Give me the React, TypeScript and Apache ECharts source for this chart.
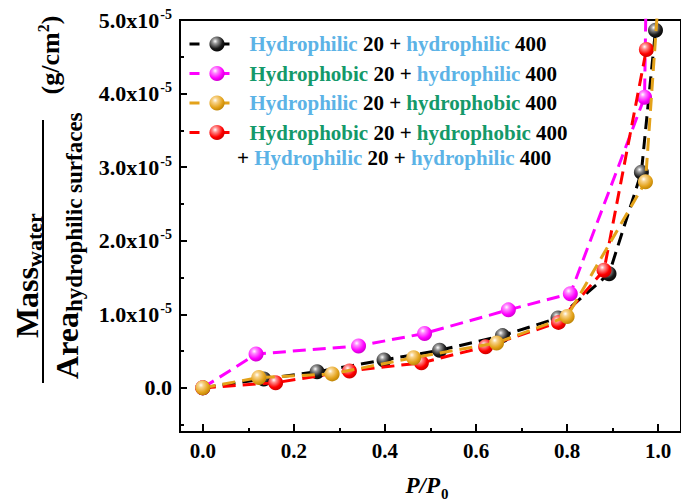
import React, { useEffect, useRef } from 'react';
import * as echarts from 'echarts';

// ---- data (y values in units of 1e-5 g/cm^2) ----
const xTickValues = [0, 0.2, 0.4, 0.6, 0.8, 1.0];
const xMinorTickValues = [0.1, 0.3, 0.5, 0.7, 0.9];
const yTickValues = [0, 1, 2, 3, 4, 5];
const yMinorTickValues = [-0.5, 0.5, 1.5, 2.5, 3.5, 4.5];
const yExponent = '-5';

const seriesNames = [
  'Hydrophilic 20 + hydrophilic 400',
  'Hydrophobic 20 + hydrophilic 400',
  'Hydrophilic 20 + hydrophobic 400',
  'Hydrophobic 20 + hydrophobic 400',
];
const extraLegendLine = '+ Hydrophilic 20 + hydrophilic 400';

const blackX = [0, 0.134, 0.251, 0.398, 0.52, 0.658, 0.78, 0.892, 0.963, 0.994];
const blackY = [0, 0.12, 0.22, 0.38, 0.51, 0.71, 0.95, 1.55, 2.93, 4.86];

const magentaX = [0, 0.117, 0.342, 0.487, 0.671, 0.807, 0.97, 0.973];
const magentaY = [0, 0.46, 0.57, 0.74, 1.06, 1.28, 3.95, 5.2];

const orangeX = [0, 0.123, 0.284, 0.463, 0.645, 0.8, 0.972, 0.998];
const orangeY = [0, 0.14, 0.19, 0.41, 0.61, 0.97, 2.8, 5.1];

const redX = [0, 0.16, 0.322, 0.48, 0.621, 0.781, 0.881, 0.974];
const redY = [0, 0.07, 0.23, 0.34, 0.56, 0.89, 1.6, 4.6];

const FONT = '"Liberation Serif", "Times New Roman", serif';
const BLUE = '#5CB3E6';
const GREEN = '#14996A';

function ball(light: string, base: string, dark: string) {
  return {
    type: 'radial',
    x: 0.38,
    y: 0.32,
    r: 0.75,
    colorStops: [
      { offset: 0, color: '#ffffff' },
      { offset: 0.22, color: light },
      { offset: 0.65, color: base },
      { offset: 1, color: dark },
    ],
  };
}

const mkRich = (c: string) => ({ color: c, fill: c, fontFamily: FONT, fontWeight: 'bold', fontSize: 21, lineHeight: 20 });
const richText = { b: mkRich(BLUE), g: mkRich(GREEN), k: mkRich('#000') };

function toRich(name: string) {
  return name
    .split(' ')
    .map((w) => (/hydrophil/i.test(w) ? `{b|${w}}` : /hydrophob/i.test(w) ? `{g|${w}}` : `{k|${w}}`))
    .join('{k| }');
}

function pairs(xs: number[], ys: number[]) {
  return xs.map((x, i) => [x, ys[i]]);
}

export default function App() {
  const ref = useRef<HTMLDivElement>(null);
  useEffect(() => {
    if (!ref.current) return;
    const chart = echarts.init(ref.current, null, { renderer: 'svg' });

    const mkSeries = (name: string, xs: number[], ys: number[], color: string, grad: any, z: number) => ({
      name,
      type: 'line',
      data: pairs(xs, ys),
      xAxisIndex: 0,
      yAxisIndex: 0,
      symbol: 'circle',
      symbolSize: 15,
      clip: true,
      z,
      lineStyle: { color, width: 3, type: [13, 7] },
      itemStyle: { color: grad },
      emphasis: { disabled: true },
    });

    const option: any = {
      animation: false,
      backgroundColor: '#ffffff',
      grid: [
        { left: 180, top: 20, right: -7, bottom: 69, show: true, borderColor: '#000', borderWidth: 2 },
        { left: 180, top: 20, right: -7, bottom: 69, show: false },
      ],
      xAxis: [
        {
          type: 'value', gridIndex: 0, min: -0.05, max: 1.05, position: 'bottom',
          axisLine: { show: true, onZero: false, lineStyle: { color: '#000', width: 2 } },
          axisTick: { show: true, inside: true, length: 8, lineStyle: { color: '#000', width: 2 }, customValues: xTickValues },
          axisLabel: {
            show: true, customValues: xTickValues, formatter: (v: number) => v.toFixed(1),
            color: '#000', fontFamily: FONT, fontWeight: 'bold', fontSize: 21, margin: 8,
          },
          splitLine: { show: false },
        },
        {
          type: 'value', gridIndex: 1, min: -0.05, max: 1.05, position: 'bottom',
          axisLine: { show: false, onZero: false },
          axisTick: { show: true, inside: true, length: 4, lineStyle: { color: '#000', width: 2 }, customValues: xMinorTickValues },
          axisLabel: { show: false },
          splitLine: { show: false },
        },
      ],
      yAxis: [
        {
          type: 'value', gridIndex: 0, min: -0.6, max: 5.0, position: 'left',
          axisLine: { show: true, onZero: false, lineStyle: { color: '#000', width: 2 } },
          axisTick: { show: true, inside: true, length: 7, lineStyle: { color: '#000', width: 2 }, customValues: yTickValues },
          axisLabel: {
            show: true, customValues: yTickValues, margin: 8,
            formatter: (v: number) => (v === 0 ? '{a|0.0}' : `{a|${v.toFixed(1)}x10}{s|${yExponent}}`),
            rich: {
              a: { color: '#000', fontFamily: FONT, fontWeight: 'bold', fontSize: 22, lineHeight: 26 },
              s: { color: '#000', fontFamily: FONT, fontWeight: 'bold', fontSize: 14, lineHeight: 14, verticalAlign: 'top', padding: [0, 0, 0, 1] },
            },
          },
          splitLine: { show: false },
        },
        {
          type: 'value', gridIndex: 1, min: -0.6, max: 5.0, position: 'left',
          axisLine: { show: false, onZero: false },
          axisTick: { show: true, inside: true, length: 4, lineStyle: { color: '#000', width: 2 }, customValues: yMinorTickValues },
          axisLabel: { show: false },
          splitLine: { show: false },
        },
      ],
      legend: {
        data: seriesNames,
        orient: 'vertical',
        left: 188,
        top: 33.5,
        padding: 0,
        itemGap: 8.5,
        itemWidth: 55,
        itemHeight: 19,
        selectedMode: false,
        lineStyle: { type: [10, 15, 15, 20], width: 3 },
        formatter: (name: string) => toRich(name),
        textStyle: { rich: richText },
      },
      graphic: [
        {
          type: 'text', x: 237, y: 158,
          style: { text: toRich(extraLegendLine), rich: richText, verticalAlign: 'middle', align: 'left' },
        },
        {
          type: 'text', x: 440, y: 485,
          style: { text: 'P/P', fill: '#000', font: `italic bold 23px ${FONT}`, align: 'right', verticalAlign: 'middle' },
        },
        {
          type: 'text', x: 441, y: 494,
          style: { text: '0', fill: '#000', font: `bold 15px ${FONT}`, align: 'left', verticalAlign: 'middle' },
        },
        {
          type: 'group', x: 0, y: 0, rotation: Math.PI / 2,
          children: [
            { type: 'line', shape: { x1: -383, y1: 43, x2: -120, y2: 43 }, style: { stroke: '#000', lineWidth: 2 } },
            { type: 'text', x: -267, y: 27, style: { text: 'Mass', fill: '#000', font: `bold 32px ${FONT}`, align: 'right', verticalAlign: 'middle' } },
            { type: 'text', x: -267, y: 34.5, style: { text: 'water', fill: '#000', font: `bold 22px ${FONT}`, align: 'left', verticalAlign: 'middle' } },
            { type: 'text', x: -312, y: 67, style: { text: 'Area', fill: '#000', font: `bold 32px ${FONT}`, align: 'right', verticalAlign: 'middle' } },
            { type: 'text', x: -312, y: 74.5, style: { text: 'hydrophilic surfaces', fill: '#000', font: `bold 23px ${FONT}`, align: 'left', verticalAlign: 'middle' } },
            {
              type: 'text', x: -55, y: 50,
              style: {
                text: '{a|(g/cm}{s|2}{a|)}', align: 'center', verticalAlign: 'middle',
                rich: {
                  a: { fill: '#000', color: '#000', fontFamily: FONT, fontWeight: 'bold', fontSize: 26, lineHeight: 30 },
                  s: { fill: '#000', color: '#000', fontFamily: FONT, fontWeight: 'bold', fontSize: 16, lineHeight: 16, verticalAlign: 'top' },
                },
              },
            },
          ],
        },
      ],
      series: [
        mkSeries(seriesNames[0], blackX, blackY, '#000000', ball('#9a9a9a', '#1a1a1a', '#000000'), 2),
        mkSeries(seriesNames[1], magentaX, magentaY, '#FF00FF', ball('#ff8cff', '#ff00ff', '#c000c0'), 3),
        mkSeries(seriesNames[3], redX, redY, '#FF0000', ball('#ff9090', '#ff0000', '#c00000'), 4),
        mkSeries(seriesNames[2], orangeX, orangeY, '#E3A21A', ball('#f8d38a', '#e3a21a', '#b57d00'), 5),
      ],
    };
    chart.setOption(option);
    return () => chart.dispose();
  }, []);
  return <div ref={ref} style={{ position: 'fixed', left: 0, top: 0, width: 681, height: 501, background: '#fff' }} />;
}
